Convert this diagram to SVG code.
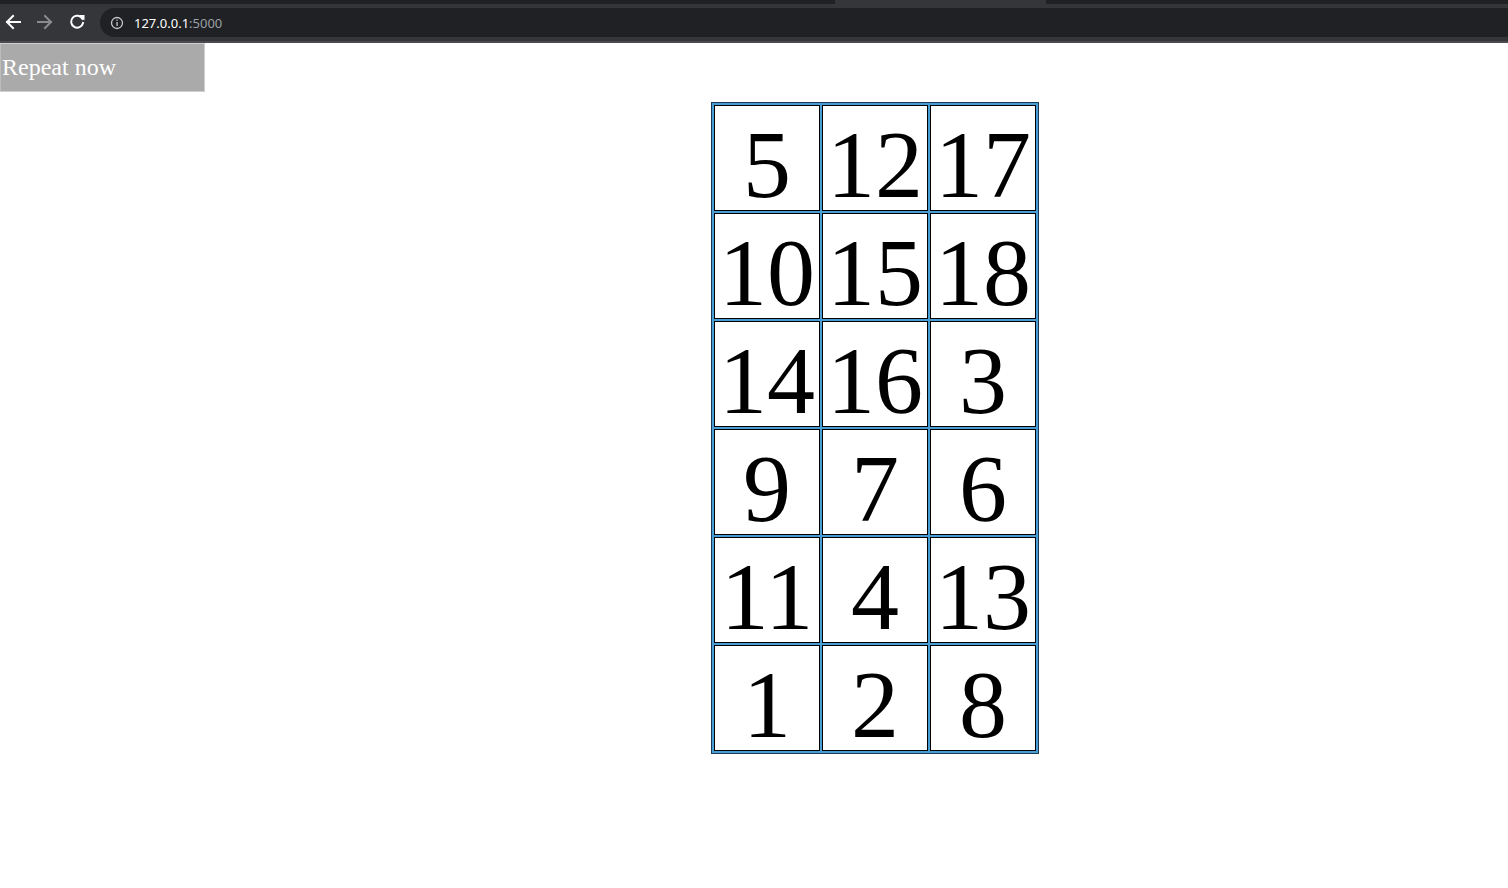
<svg xmlns="http://www.w3.org/2000/svg" width="1508" height="888" viewBox="0 0 1508 888">
<style>
.num{font-family:"Liberation Serif","Times New Roman",serif;font-size:96px;fill:#000;text-anchor:middle}
.cellb{fill:#000}
.celli{fill:#fff}
.btn{font-family:"Liberation Serif","Times New Roman",serif;font-size:24px;fill:#fff}
.url{font-family:"Noto Sans","Liberation Sans",sans-serif;font-size:13px}
</style>
<rect x="0" y="0" width="1508" height="888" fill="#fff"/>
<g id="browser-bar">
<rect x="0" y="0" width="1508" height="43" fill="#35363a"/>
<rect x="0" y="0" width="835" height="4" fill="#202124"/>
<rect x="1046" y="0" width="462" height="4" fill="#202124"/>
<rect x="100" y="8" width="1420" height="29" rx="14.5" fill="#202124"/>
<rect x="0" y="41" width="1508" height="2" fill="#4a4b4f"/>
<g fill="none" stroke-width="2" stroke-linecap="square">
<path d="M20 22H7M13 16L7 22L13 28" stroke="#fff"/>
<path d="M38 22H51M45 16L51 22L45 28" stroke="#8a8b8e"/>
<path d="M82.5 19A6 6 0 1 0 83 23" stroke="#fff"/>
</g>
<path d="M79 15L84.5 15L84.5 20.5Z" fill="#fff"/>
<circle cx="117" cy="23" r="5.5" fill="none" stroke="#c4c6c9" stroke-width="1.3"/>
<rect x="116.4" y="22" width="1.3" height="4" fill="#c4c6c9"/>
<rect x="116.4" y="19.5" width="1.3" height="1.3" fill="#c4c6c9"/>
<text class="url" x="134" y="27.5"><tspan fill="#fff">127.0.0.1</tspan><tspan fill="#9aa0a6">:5000</tspan></text>
</g>
<g id="repeat-button">
<rect x="0" y="43.5" width="204.5" height="48" fill="#aaaaaa" stroke="#cfcfcf" stroke-width="1"/>
<text class="btn" x="2" y="75">Repeat now</text>
</g>
<g id="table">
<rect x="711" y="102" width="328" height="652" fill="#163a57"/>
<rect x="712" y="103" width="326" height="650" fill="#4a9dd2"/>
</g>
<g id="cells">
<g id="c1"><rect class="cellb" x="714" y="105" width="106" height="106"/><rect class="celli" x="715" y="106" width="104" height="104"/><text class="num" x="767" y="197">5</text></g>
<g id="c2"><rect class="cellb" x="822" y="105" width="106" height="106"/><rect class="celli" x="823" y="106" width="104" height="104"/><text class="num" x="875" y="197">12</text></g>
<g id="c3"><rect class="cellb" x="930" y="105" width="106" height="106"/><rect class="celli" x="931" y="106" width="104" height="104"/><text class="num" x="983" y="197">17</text></g>
<g id="c4"><rect class="cellb" x="714" y="213" width="106" height="106"/><rect class="celli" x="715" y="214" width="104" height="104"/><text class="num" x="767" y="305">10</text></g>
<g id="c5"><rect class="cellb" x="822" y="213" width="106" height="106"/><rect class="celli" x="823" y="214" width="104" height="104"/><text class="num" x="875" y="305">15</text></g>
<g id="c6"><rect class="cellb" x="930" y="213" width="106" height="106"/><rect class="celli" x="931" y="214" width="104" height="104"/><text class="num" x="983" y="305">18</text></g>
<g id="c7"><rect class="cellb" x="714" y="321" width="106" height="106"/><rect class="celli" x="715" y="322" width="104" height="104"/><text class="num" x="767" y="413">14</text></g>
<g id="c8"><rect class="cellb" x="822" y="321" width="106" height="106"/><rect class="celli" x="823" y="322" width="104" height="104"/><text class="num" x="875" y="413">16</text></g>
<g id="c9"><rect class="cellb" x="930" y="321" width="106" height="106"/><rect class="celli" x="931" y="322" width="104" height="104"/><text class="num" x="983" y="413">3</text></g>
<g id="c10"><rect class="cellb" x="714" y="429" width="106" height="106"/><rect class="celli" x="715" y="430" width="104" height="104"/><text class="num" x="767" y="521">9</text></g>
<g id="c11"><rect class="cellb" x="822" y="429" width="106" height="106"/><rect class="celli" x="823" y="430" width="104" height="104"/><text class="num" x="875" y="521">7</text></g>
<g id="c12"><rect class="cellb" x="930" y="429" width="106" height="106"/><rect class="celli" x="931" y="430" width="104" height="104"/><text class="num" x="983" y="521">6</text></g>
<g id="c13"><rect class="cellb" x="714" y="537" width="106" height="106"/><rect class="celli" x="715" y="538" width="104" height="104"/><text class="num" x="767" y="629">11</text></g>
<g id="c14"><rect class="cellb" x="822" y="537" width="106" height="106"/><rect class="celli" x="823" y="538" width="104" height="104"/><text class="num" x="875" y="629">4</text></g>
<g id="c15"><rect class="cellb" x="930" y="537" width="106" height="106"/><rect class="celli" x="931" y="538" width="104" height="104"/><text class="num" x="983" y="629">13</text></g>
<g id="c16"><rect class="cellb" x="714" y="645" width="106" height="106"/><rect class="celli" x="715" y="646" width="104" height="104"/><text class="num" x="767" y="737">1</text></g>
<g id="c17"><rect class="cellb" x="822" y="645" width="106" height="106"/><rect class="celli" x="823" y="646" width="104" height="104"/><text class="num" x="875" y="737">2</text></g>
<g id="c18"><rect class="cellb" x="930" y="645" width="106" height="106"/><rect class="celli" x="931" y="646" width="104" height="104"/><text class="num" x="983" y="737">8</text></g>
</g>
</svg>
